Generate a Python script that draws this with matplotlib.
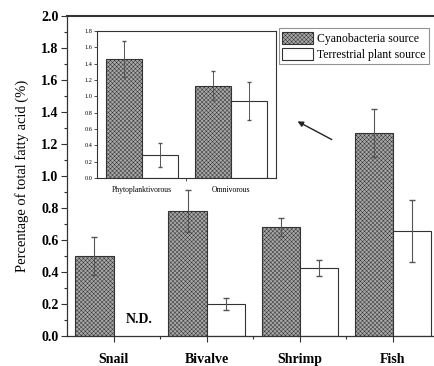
import matplotlib
matplotlib.use("Agg")
import matplotlib.pyplot as plt
import numpy as np

plt.rcParams['font.family'] = ['Liberation Serif', 'DejaVu Serif']
plt.rcParams['hatch.linewidth'] = 0.35

# donnees du graphe principal
especes = ["Snail", "Bivalve", "Shrimp", "Fish"]
cyano = [0.50, 0.78, 0.68, 1.27]
cyano_err = [0.12, 0.13, 0.055, 0.15]
terre = [np.nan, 0.20, 0.425, 0.655]
terre_err = [np.nan, 0.035, 0.05, 0.195]

# donnees de l'encart
groupes = ["Phytoplanktivorous", "Omnivorous"]
cyano_enc = [1.46, 1.13]
cyano_enc_err = [0.22, 0.18]
terre_enc = [0.28, 0.945]
terre_enc_err = [0.15, 0.23]

fig = plt.figure(figsize=(4.34, 3.66), dpi=100)
ax = fig.add_axes([0.1544, 0.082, 0.858, 0.874])

x = np.arange(1, len(especes) + 1)
w = 0.41
trait = '#333333'
gris = '#a8a8a8'
motif = 'xxxxxxxx'

b1 = ax.bar(x - w / 2, cyano, w, color=gris, edgecolor=trait, hatch=motif,
            linewidth=0.8, label="Cyanobacteria source")
b2 = ax.bar(x + w / 2, terre, w, color='white', edgecolor=trait,
            linewidth=0.8, label="Terrestrial plant source")
ax.errorbar(x - w / 2, cyano, yerr=cyano_err, fmt='none', ecolor='#555555',
            elinewidth=0.8, capsize=2)
ax.errorbar(x + w / 2, terre, yerr=terre_err, fmt='none', ecolor='#555555',
            elinewidth=0.8, capsize=2)

ax.text(1.28, 0.1, "N.D.", ha='center', va='center', fontsize=10, fontweight='bold')

ax.set_xlim(0.5, 4.5)
ax.set_ylim(0, 2.0)
ax.set_xticks(x)
ax.set_xticklabels(especes, fontsize=10, fontweight='bold')
ax.set_xticks(x[:-1] + 0.5, minor=True)
ax.set_yticks(np.arange(0, 2.01, 0.2))
ax.set_yticklabels([f"{v:.1f}" for v in np.arange(0, 2.01, 0.2)], fontsize=10, fontweight='bold')
ax.set_yticks(np.arange(0.1, 2.0, 0.2), minor=True)
ax.tick_params(which='major', direction='out', length=4, width=0.8, color=trait, pad=2)
ax.tick_params(which='minor', direction='out', length=2.5, width=0.8, color=trait)
ax.tick_params(axis='x', which='major', pad=8)
for s in ax.spines.values():
    s.set_color(trait)
    s.set_linewidth(0.9)
ax.spines['top'].set_linewidth(1.5)
ax.set_ylabel("Percentage of total fatty acid (%)", fontsize=10.5, labelpad=9)

leg = ax.legend(handles=[b1, b2], loc='upper left', bbox_to_anchor=(0.569, 0.9625),
                fontsize=8.5, frameon=True, fancybox=False, edgecolor='#777777',
                handlelength=2.6, handleheight=1.2, handletextpad=0.3,
                borderpad=0.3, labelspacing=0.25, borderaxespad=0.0)
leg.get_frame().set_linewidth(0.8)

# fleche vers l'encart
ax.annotate("", xy=(2.95, 1.35), xytext=(3.37, 1.22),
            arrowprops=dict(arrowstyle='-|>', color='#222222', lw=1.0,
                            mutation_scale=8))

# encart
axi = fig.add_axes([0.2235, 0.5137, 0.4124, 0.4016])
xi = np.arange(1, len(groupes) + 1)
wi = 0.4
axi.bar(xi - wi / 2, cyano_enc, wi, color=gris, edgecolor=trait, hatch=motif, linewidth=0.8)
axi.bar(xi + wi / 2, terre_enc, wi, color='white', edgecolor=trait, linewidth=0.8)
axi.errorbar(xi - wi / 2, cyano_enc, yerr=cyano_enc_err, fmt='none', ecolor='#555555',
             elinewidth=0.7, capsize=1.5)
axi.errorbar(xi + wi / 2, terre_enc, yerr=terre_enc_err, fmt='none', ecolor='#555555',
             elinewidth=0.7, capsize=1.5)
axi.set_xlim(0.5, 2.5)
axi.set_ylim(0, 1.8)
axi.set_xticks(xi)
axi.set_xticklabels(groupes, fontsize=5.5)
axi.set_xticks([1.5], minor=True)
axi.set_yticks(np.arange(0, 1.81, 0.2))
axi.set_yticklabels([f"{v:.1f}" for v in np.arange(0, 1.81, 0.2)], fontsize=4.5)
axi.tick_params(which='major', direction='out', length=2, width=0.6, color=trait, pad=1.5)
axi.tick_params(axis='x', which='major', length=0, pad=6)
axi.tick_params(which='minor', direction='out', length=2, width=0.6, color=trait)
for s in axi.spines.values():
    s.set_color(trait)
    s.set_linewidth(0.8)

fig.savefig("out.png", dpi=100)
